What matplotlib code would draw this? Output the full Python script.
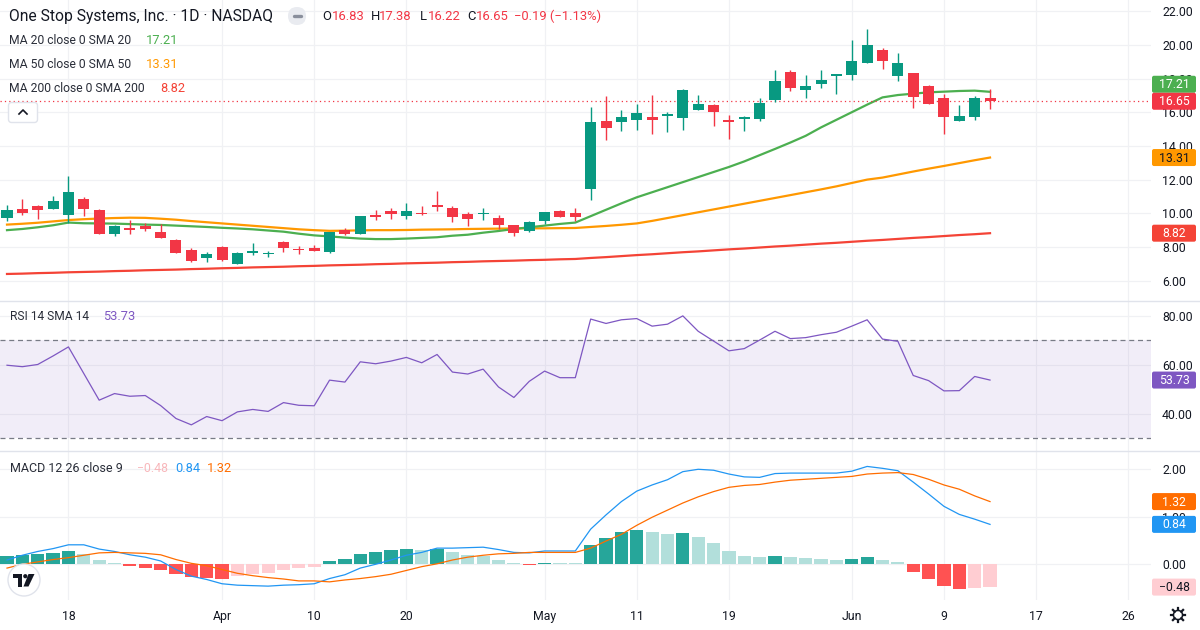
import matplotlib
matplotlib.use('Agg')
import matplotlib.pyplot as plt
from matplotlib.patches import FancyBboxPatch, Circle, Polygon
import numpy as np

plt.rcParams['font.family'] = ['Roboto', 'DejaVu Sans']

# ---------------- data ----------------
opens = [9.74, 10.26, 10.44, 10.28, 9.92, 10.85, 10.20, 8.79, 9.09, 9.25,
         8.89, 8.42, 7.82, 7.37, 8.00, 6.97, 7.64, 7.58, 8.30, 7.90,
         7.94, 7.72, 9.03, 8.75, 9.92, 10.16, 9.82, 10.04, 10.46, 10.34,
         9.98, 9.94, 9.74, 9.33, 8.93, 9.52, 10.16, 10.04, 11.43, 15.50,
         15.41, 15.56, 15.74, 15.80, 15.64, 16.12, 16.40, 15.56, 15.58, 15.58,
         16.75, 18.36, 17.31, 17.66, 18.14, 18.20, 18.91, 19.72, 18.14, 18.30,
         17.58, 16.87, 15.47, 15.70, 16.83]
highs = [10.50, 10.85, 10.50, 11.03, 12.22, 10.97, 10.26, 9.33, 9.60, 9.43,
         9.35, 8.48, 7.94, 7.68, 8.06, 7.70, 8.24, 7.78, 8.36, 8.08,
         8.12, 8.89, 9.15, 9.86, 10.22, 10.34, 10.63, 10.46, 11.35, 10.46,
         10.10, 10.34, 9.92, 9.33, 9.56, 10.10, 10.22, 10.34, 16.28, 16.99,
         16.16, 16.51, 17.05, 16.04, 17.35, 17.05, 16.51, 15.84, 15.80, 16.87,
         18.53, 18.48, 18.18, 18.48, 18.24, 20.26, 20.91, 19.84, 19.54, 18.30,
         17.64, 17.11, 16.40, 16.99, 17.38]
lows = [9.54, 9.90, 9.68, 10.25, 9.41, 9.86, 8.77, 8.67, 8.79, 8.97,
        8.55, 7.66, 7.13, 7.13, 7.19, 6.97, 7.52, 7.43, 7.70, 7.58,
        7.76, 7.64, 8.69, 8.75, 9.62, 9.68, 9.68, 9.88, 10.16, 9.47,
        9.27, 9.62, 9.09, 8.63, 8.87, 9.35, 9.76, 9.52, 10.77, 14.34,
        14.87, 14.93, 14.69, 14.81, 14.93, 16.12, 15.21, 14.40, 14.87, 15.47,
        16.63, 17.25, 16.83, 17.43, 17.07, 17.90, 18.91, 18.55, 17.84, 16.24,
        16.48, 14.69, 15.47, 15.52, 16.22]
closes = [10.20, 10.04, 10.22, 10.73, 11.27, 10.28, 8.79, 9.25, 9.03, 9.09,
          8.55, 7.66, 7.19, 7.58, 7.25, 7.64, 7.76, 7.64, 7.94, 7.84,
          7.76, 8.89, 8.75, 9.86, 9.76, 9.94, 10.16, 9.94, 10.40, 9.76,
          9.68, 10.00, 9.29, 8.81, 9.50, 10.10, 9.76, 9.76, 15.39, 15.09,
          15.74, 15.98, 15.52, 15.90, 17.29, 16.51, 16.00, 15.41, 15.74, 16.57,
          17.88, 17.43, 17.58, 17.94, 18.24, 19.01, 19.96, 19.03, 18.95, 16.89,
          16.48, 15.70, 15.80, 16.84, 16.65]

ma20 = [9.00, 9.07, 9.17, 9.29, 9.45, 9.41, 9.40, 9.39, 9.36, 9.33,
        9.31, 9.27, 9.23, 9.19, 9.14, 9.10, 9.05, 8.98, 8.91, 8.79,
        8.69, 8.63, 8.56, 8.50, 8.47, 8.47, 8.50, 8.54, 8.58, 8.67,
        8.73, 8.85, 8.95, 9.07, 9.17, 9.27, 9.37, 9.45, 9.83, 10.21,
        10.59, 10.95, 11.25, 11.55, 11.85, 12.15, 12.45, 12.75, 13.08, 13.45,
        13.82, 14.20, 14.60, 15.10, 15.55, 16.00, 16.45, 16.88, 17.02, 17.10,
        17.18, 17.22, 17.26, 17.28, 17.21]
ma50 = [9.33, 9.38, 9.44, 9.52, 9.60, 9.65, 9.69, 9.72, 9.74, 9.73,
        9.68, 9.62, 9.54, 9.47, 9.40, 9.33, 9.26, 9.19, 9.12, 9.05,
        9.00, 8.96, 8.97, 8.99, 9.00, 9.00, 9.01, 9.03, 9.04, 9.05,
        9.07, 9.08, 9.09, 9.10, 9.11, 9.11, 9.12, 9.13, 9.19, 9.25,
        9.32, 9.40, 9.55, 9.72, 9.89, 10.06, 10.23, 10.40, 10.57, 10.74,
        10.91, 11.08, 11.25, 11.42, 11.60, 11.80, 12.00, 12.12, 12.30, 12.48,
        12.65, 12.81, 12.98, 13.15, 13.31]
ma200 = [6.40, 6.42, 6.45, 6.47, 6.50, 6.52, 6.54, 6.57, 6.59, 6.62,
         6.64, 6.66, 6.69, 6.71, 6.74, 6.76, 6.79, 6.81, 6.83, 6.86,
         6.88, 6.91, 6.93, 6.95, 6.98, 7.00, 7.03, 7.05, 7.07, 7.10,
         7.12, 7.15, 7.17, 7.19, 7.22, 7.24, 7.27, 7.29, 7.35, 7.40,
         7.46, 7.52, 7.57, 7.63, 7.69, 7.74, 7.80, 7.86, 7.91, 7.97,
         8.03, 8.08, 8.14, 8.20, 8.25, 8.31, 8.37, 8.42, 8.48, 8.54,
         8.59, 8.65, 8.71, 8.76, 8.82]

rsi = [59.8, 59.2, 60.1, 63.6, 67.3, 56.4, 45.5, 48.2, 47.1, 47.4,
       43.3, 38.0, 35.4, 38.8, 37.1, 40.7, 41.7, 40.9, 44.5, 43.4,
       43.2, 53.7, 52.9, 61.2, 60.4, 61.5, 63.0, 60.8, 64.2, 57.0,
       56.2, 58.2, 50.9, 46.6, 53.2, 57.4, 54.7, 54.7, 78.7, 76.9,
       78.4, 78.9, 75.8, 76.6, 80.0, 73.7, 69.7, 65.7, 66.6, 70.1,
       73.7, 70.7, 71.1, 72.3, 73.3, 75.8, 78.4, 70.5, 69.6, 55.6,
       53.5, 49.3, 49.4, 55.2, 53.73]

macd = [0.09, 0.19, 0.27, 0.33, 0.41, 0.41, 0.32, 0.27, 0.20, 0.15,
        0.07, -0.11, -0.25, -0.32, -0.41, -0.44, -0.45, -0.46, -0.44, -0.43,
        -0.41, -0.30, -0.22, -0.08, 0.00, 0.09, 0.19, 0.25, 0.34, 0.34,
        0.35, 0.36, 0.31, 0.25, 0.24, 0.28, 0.28, 0.28, 0.74, 1.04,
        1.32, 1.54, 1.67, 1.78, 1.95, 2.00, 1.98, 1.90, 1.84, 1.83,
        1.91, 1.92, 1.92, 1.92, 1.92, 1.96, 2.06, 2.02, 1.97, 1.73,
        1.48, 1.22, 1.05, 0.95, 0.84]
signal = [-0.08, 0.00, 0.05, 0.10, 0.14, 0.19, 0.24, 0.25, 0.24, 0.23,
          0.20, 0.10, 0.02, -0.03, -0.11, -0.19, -0.24, -0.28, -0.31, -0.35,
          -0.35, -0.37, -0.33, -0.30, -0.26, -0.21, -0.13, -0.05, 0.01, 0.09,
          0.15, 0.19, 0.22, 0.23, 0.25, 0.25, 0.25, 0.25, 0.34, 0.49,
          0.63, 0.82, 0.99, 1.14, 1.29, 1.42, 1.53, 1.62, 1.66, 1.68,
          1.73, 1.77, 1.79, 1.81, 1.83, 1.85, 1.90, 1.92, 1.93, 1.89,
          1.79, 1.67, 1.58, 1.44, 1.32]
hist = [0.17, 0.19, 0.22, 0.23, 0.27, 0.22, 0.08, 0.02, -0.04, -0.08,
        -0.13, -0.21, -0.27, -0.29, -0.30, -0.25, -0.21, -0.18, -0.13, -0.08,
        -0.06, 0.07, 0.11, 0.22, 0.26, 0.30, 0.32, 0.30, 0.33, 0.25,
        0.20, 0.17, 0.09, 0.02, -0.01, 0.03, 0.03, 0.03, 0.40, 0.55,
        0.69, 0.72, 0.68, 0.64, 0.66, 0.58, 0.45, 0.28, 0.18, 0.15,
        0.18, 0.15, 0.13, 0.11, 0.09, 0.11, 0.16, 0.10, 0.04, -0.16,
        -0.31, -0.45, -0.53, -0.49, -0.48]

tick_pos = [4, 14, 20, 26, 35, 41, 47, 55, 61, 67, 73]
tick_lbl = ['18', 'Apr', '10', '20', 'May', '11', '19', 'Jun', '9', '17', '26']

price_ticks = [6, 8, 10, 12, 14, 16, 18, 20, 22]
rsi_ticks = [40, 60, 80]
macd_ticks = [0, 1, 2]

# ---------------- colors ----------------
UP = '#089981'
DN = '#F23645'
GRID = '#F0F1F4'
TXT = '#131722'
C_MA20 = '#4CAF50'
C_MA50 = '#FF9800'
C_MA200 = '#F44336'
C_RSI = '#7E57C2'
C_MACD = '#2196F3'
C_SIG = '#FF6D00'

W, H = 1200, 630
fig = plt.figure(figsize=(12, 6.3), dpi=100)
fig.patch.set_facecolor('white')
PR = 1151


def rect(top, bottom):
    return [0, 1 - bottom / H, PR / W, (bottom - top) / H]


ax_p = fig.add_axes(rect(0, 300))
ax_r = fig.add_axes(rect(300, 450))
ax_m = fig.add_axes(rect(450, 600))

n = len(closes)
idx = np.arange(n)
XL = (-0.456, 74.48)

for ax in (ax_p, ax_r, ax_m):
    ax.set_xlim(*XL)
    for s in ax.spines.values():
        s.set_visible(False)
    ax.set_xticks(tick_pos)
    ax.grid(True, color=GRID, lw=0.9, zorder=0)
    ax.set_axisbelow(True)
    ax.yaxis.tick_right()
    ax.tick_params(axis='both', length=0, labelsize=8.8, labelcolor=TXT, pad=8)
    ax.tick_params(axis='x', labelbottom=False)
    ax.set_facecolor('white')

# ---- price pane ----
ax_p.set_ylim(4.855, 22.66)
ax_p.set_yticks(price_ticks)
ax_p.set_yticklabels([f'{v:.2f}' for v in price_ticks])
ax_p.plot(idx, ma200, color=C_MA200, lw=1.6, zorder=2)
ax_p.plot(idx, ma50, color=C_MA50, lw=1.6, zorder=2)
ax_p.plot(idx, ma20, color=C_MA20, lw=1.6, zorder=2)
o = np.array(opens); c = np.array(closes); hi = np.array(highs); lo = np.array(lows)
cols = [UP if cc >= oo else DN for oo, cc in zip(o, c)]
ax_p.vlines(idx, lo, hi, colors=cols, lw=1.0, zorder=3)
body_b = np.minimum(o, c)
body_h = np.maximum(np.abs(c - o), 0.07)
ax_p.bar(idx, body_h, bottom=body_b, width=0.72, color=cols, zorder=4, linewidth=0)
ax_p.axhline(closes[-1], color=DN, lw=0.9, ls=(0, (1, 2.5)), zorder=2)

# ---- RSI pane ----
ax_r.set_ylim(25.1, 86.5)
ax_r.set_yticks(rsi_ticks)
ax_r.set_yticklabels([f'{v:.2f}' for v in rsi_ticks])
ax_r.axhspan(30, 70, color=C_RSI, alpha=0.1, lw=0, zorder=1)
for lvl in (70, 30):
    ax_r.axhline(lvl, color='#787B86', lw=0.9, ls=(0, (4, 3)), zorder=2)
ax_r.plot(idx, rsi, color=C_RSI, lw=0.9, zorder=3)

# ---- MACD pane ----
ax_m.set_ylim(-0.752, 2.406)
ax_m.set_yticks(macd_ticks)
ax_m.set_yticklabels([f'{v:.2f}' for v in macd_ticks])
hcols = []
for i, v in enumerate(hist):
    prev = hist[i - 1] if i > 0 else v - 0.01
    if v >= 0:
        hcols.append('#26A69A' if v > prev else '#B2DFDB')
    else:
        hcols.append('#FF5252' if v < prev else '#FFCDD2')
ax_m.bar(idx, hist, width=0.86, color=hcols, zorder=2, linewidth=0)
ax_m.plot(idx, macd, color=C_MACD, lw=0.9, zorder=3)
ax_m.plot(idx, signal, color=C_SIG, lw=0.9, zorder=3)
ax_m.tick_params(axis='x', labelbottom=True, pad=7, labelsize=8.8)
ax_m.set_xticklabels(tick_lbl)

# ---------------- overlay ----------------
ov = fig.add_axes([0, 0, 1, 1], zorder=10)
ov.set_xlim(0, W)
ov.set_ylim(H, 0)
ov.axis('off')
ov.patch.set_alpha(0)

# pane separators
for yy in (300.5, 450.5):
    ov.plot([0, W], [yy, yy], color='#E0E3EB', lw=1.0)


def px_y(ax, v):
    return H - ax.transData.transform((0, v))[1]


def vbox(yc, s, fc, tc='white'):
    ov.add_patch(FancyBboxPatch((1152, yc - 8.5), 44, 17,
                                boxstyle='round,pad=0,rounding_size=2',
                                fc=fc, ec='none'))
    ov.text(1174, yc + 0.5, s, ha='center', va='center', fontsize=8.8, color=tc)


y_close = px_y(ax_p, closes[-1])
y_ma20 = px_y(ax_p, ma20[-1])
if y_close - y_ma20 < 17:
    y_ma20 = y_close - 17
vbox(y_ma20, f'{ma20[-1]:.2f}', C_MA20)
vbox(y_close, f'{closes[-1]:.2f}', DN)
vbox(px_y(ax_p, ma50[-1]), f'{ma50[-1]:.2f}', C_MA50, TXT)
vbox(px_y(ax_p, ma200[-1]), f'{ma200[-1]:.2f}', C_MA200)
vbox(px_y(ax_r, rsi[-1]), f'{rsi[-1]:.2f}', C_RSI)
vbox(px_y(ax_m, signal[-1]), f'{signal[-1]:.2f}', C_SIG)
vbox(px_y(ax_m, macd[-1]), f'{macd[-1]:.2f}', C_MACD)
vbox(px_y(ax_m, hist[-1]), f'\u2212{abs(hist[-1]):.2f}', '#FFCDD2', TXT)

# texts
fig.canvas.draw()
rend = fig.canvas.get_renderer()


def fit(x0, x1, y, s, color, size=9.5, weight='normal'):
    t = ov.text(x0, y, s, ha='left', va='center', fontsize=size, color=color,
                fontweight=weight)
    w = t.get_window_extent(rend).width
    if w > 0:
        t.set_fontsize(size * (x1 - x0) / w)
    return t


fit(9, 273, 16, 'One Stop Systems, Inc. \u00b7 1D \u00b7 NASDAQ', TXT, 10)
ov.add_patch(FancyBboxPatch((288, 7), 18, 18, boxstyle='round,pad=0,rounding_size=9',
                            fc='#E9EBF0', ec='none'))
ov.plot([293.5, 300.5], [16, 16], color='#8A8F9C', lw=2.4, solid_capstyle='round')
sz = 9.4
segs = [(322, 'O', TXT), (332, '16.83', DN), (371, 'H', TXT), (379, '17.38', DN),
        (420, 'L', TXT), (428, '16.22', DN), (467, 'C', TXT), (476, '16.65', DN),
        (514, '\u22120.19 (\u22121.13%)', DN)]
for x0, s, col in segs:
    ov.text(x0, 16, s, ha='left', va='center', fontsize=sz, color=col)

legend = [(40, 'MA 20 close 0 SMA 20', 131, f'{ma20[-1]:.2f}', 146, 178, C_MA20),
          (64, 'MA 50 close 0 SMA 50', 131, f'{ma50[-1]:.2f}', 146, 178, C_MA50),
          (88, 'MA 200 close 0 SMA 200', 145, f'{ma200[-1]:.2f}', 160, 185, C_MA200)]
for y, lab, xe, val, v0, v1, col in legend:
    fit(9, xe, y, lab, '#2A2E39', 9.2)
    fit(v0, v1, y, val, col, 9.2)

# collapse button
ov.add_patch(FancyBboxPatch((8.5, 102.5), 29, 20, boxstyle='round,pad=0,rounding_size=3',
                            fc='white', ec='#E0E3EB', lw=1))
ov.plot([19, 23, 27], [114, 110, 114], color=TXT, lw=1.2)

fit(10, 89, 317, 'RSI 14 SMA 14', '#2A2E39', 9.2)
fit(103, 135, 317, f'{rsi[-1]:.2f}', C_RSI, 9.2)

fit(10, 122, 468, 'MACD 12 26 close 9', '#2A2E39', 9.2)
fit(137, 168, 468, f'\u2212{abs(hist[-1]):.2f}', '#F8B7BB', 9.2)
fit(175, 200, 468, f'{macd[-1]:.2f}', C_MACD, 9.2)
fit(207, 232, 468, f'{signal[-1]:.2f}', C_SIG, 9.2)

# TradingView logo (drawn shapes)
ov.add_patch(Circle((24, 580), 16, fc='white', ec='#E0E3EB', lw=1))
ov.add_patch(Polygon([(13, 574), (22, 574), (22, 586.5), (18, 586.5), (18, 578), (13, 578)],
                     closed=True, fc=TXT, ec='none'))
ov.add_patch(Circle((25.3, 576.2), 2.1, fc=TXT, ec='none'))
ov.add_patch(Polygon([(28.5, 574), (34.5, 574), (28.5, 586.5), (23.5, 586.5)],
                     closed=True, fc=TXT, ec='none'))

# gear icon
gx, gy = 1178, 615
ov.add_patch(Circle((gx, gy), 4.6, fc='white', ec=TXT, lw=1.1))
for a in np.linspace(0, 2 * np.pi, 8, endpoint=False):
    ov.plot([gx + 4.6 * np.cos(a), gx + 7.2 * np.cos(a)],
            [gy + 4.6 * np.sin(a), gy + 7.2 * np.sin(a)], color=TXT, lw=1.6)

fig.savefig('out.png', dpi=100)
